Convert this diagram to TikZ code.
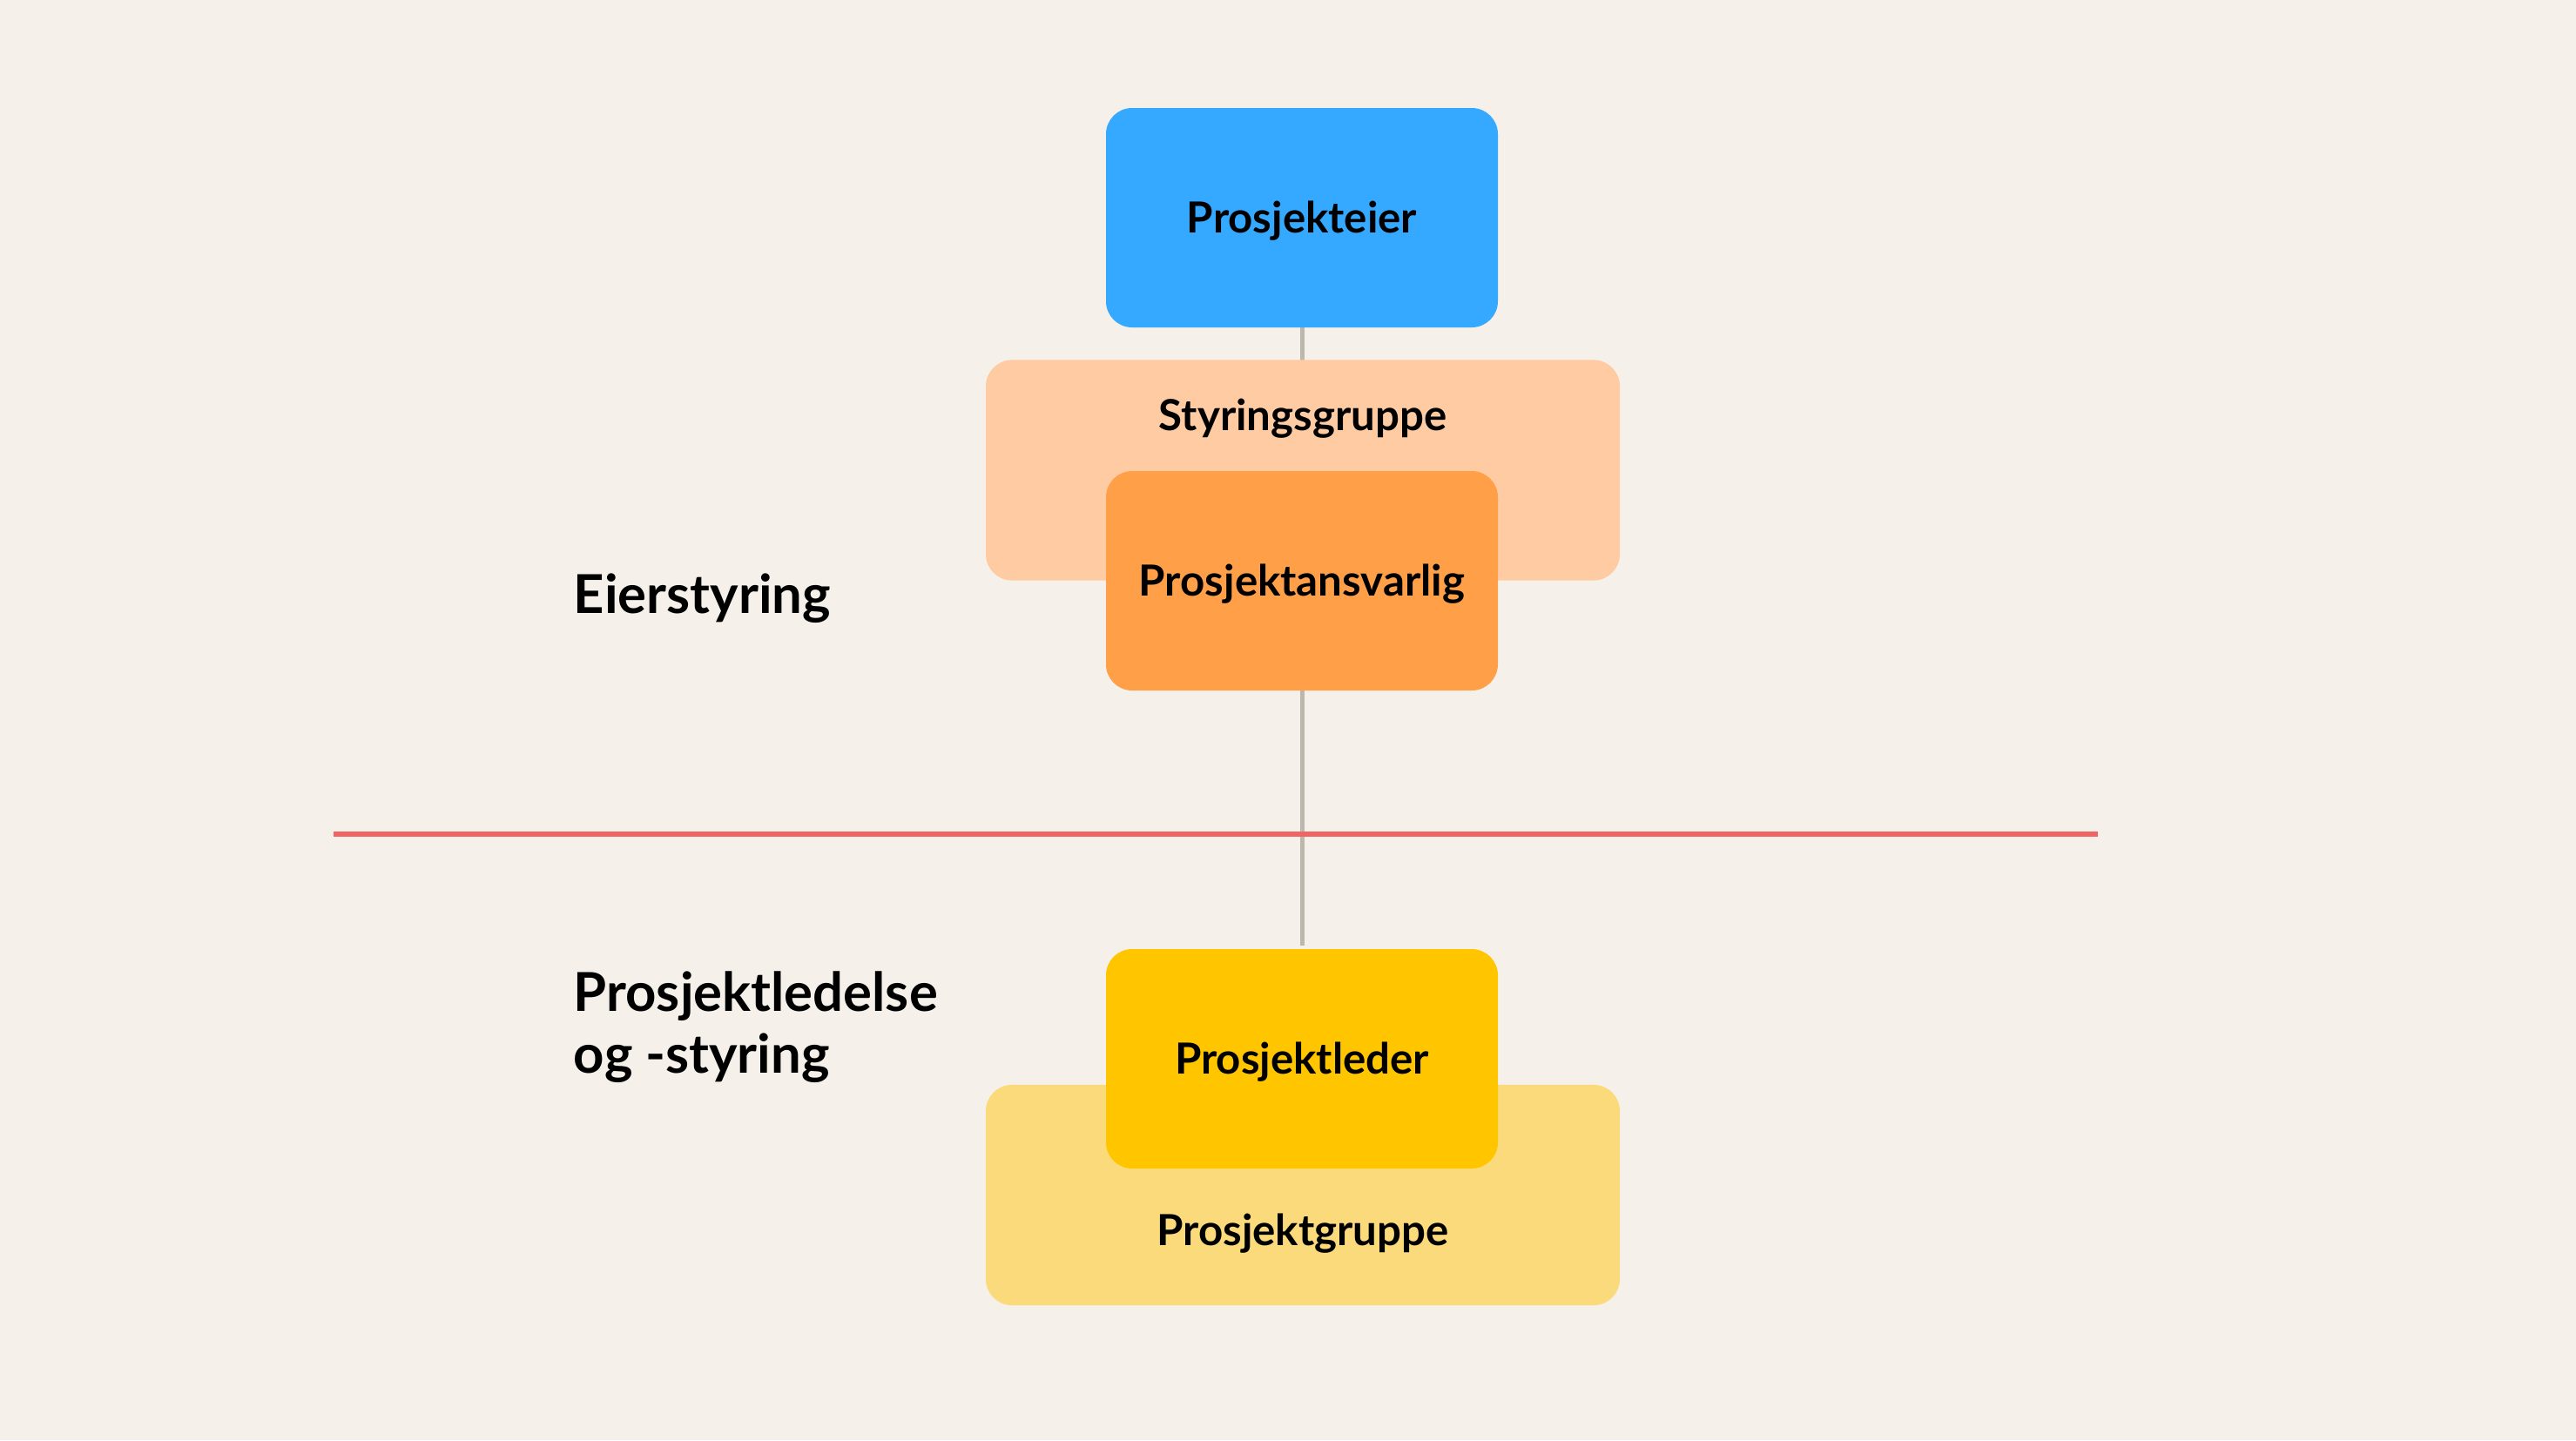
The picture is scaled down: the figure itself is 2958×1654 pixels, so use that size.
\documentclass[tikz,border=0pt]{standalone}
\usepackage{fontspec}
\setmainfont{Lato}
\definecolor{bg}{HTML}{F5F1EA}
\definecolor{ownerblue}{HTML}{35A8FF}
\definecolor{peach}{HTML}{FFCBA3}
\definecolor{orangebox}{HTML}{FF9F47}
\definecolor{yellowbox}{HTML}{FFC600}
\definecolor{lightyellow}{HTML}{FADA7A}
\definecolor{redline}{HTML}{F06464}
\definecolor{grayline}{HTML}{BDB8AD}
\begin{document}
\begin{tikzpicture}[x=0.25pt,y=-0.25pt,
  smallbox/.style={rounded corners=7.5pt, minimum width=112.5pt, minimum height=63pt, inner sep=0pt, text height=8.8pt, text depth=0pt, font=\fontsize{12.3}{14}\selectfont\bfseries},
  bigbox/.style={rounded corners=7.5pt, minimum width=182pt, minimum height=63.3pt, inner sep=0pt},
  boxtext/.style={inner sep=0pt, text height=8.8pt, text depth=0pt, font=\fontsize{12.3}{14}\selectfont\bfseries},
  sidelabel/.style={anchor=base west, inner sep=0pt, align=left, font=\fontsize{15.4}{17.75}\selectfont\bfseries}
  ]
  \fill[bg] (0,0) rectangle (2958,1654);
  \useasboundingbox (0,0) rectangle (2958,1654);

  % nodes (coordinates for connectors)
  \path (1495,248.5) node[smallbox] (eier) {};
  \path (1495,1213) node[smallbox] (leder) {};

  % connector behind boxes
  \draw[grayline, line width=1.25pt] (eier.south) -- (leder.north);

  % red divider
  \coordinate (redL) at (383,958);
  \coordinate (redR) at (2409,958);
  \draw[redline, line width=1.5pt] (redL) -- (redR);

  % boxes
  \node[smallbox, fill=ownerblue] (eierbox) at (1495,250) {Prosjekteier};
  \node[bigbox, fill=peach] (styr) at (1496,540) {};
  \node[boxtext] (styrtext) at (1496,477) {Styringsgruppe};
  \node[smallbox, fill=orangebox] (ansv) at (1495,667) {Prosjektansvarlig};

  \node[bigbox, fill=lightyellow] (gruppe) at (1496,1372.5) {};
  \node[boxtext] (gruppetext) at (1496,1413) {Prosjektgruppe};
  \node[smallbox, fill=yellowbox] (lederbox) at (1495,1216) {Prosjektleder};

  % side labels
  \node[sidelabel] (eierstyring) at (658,704) {Eierstyring};
  \node[sidelabel] (ledelse) at (658,1232) {Prosjektledelse\\og -styring};
\end{tikzpicture}
\end{document}
